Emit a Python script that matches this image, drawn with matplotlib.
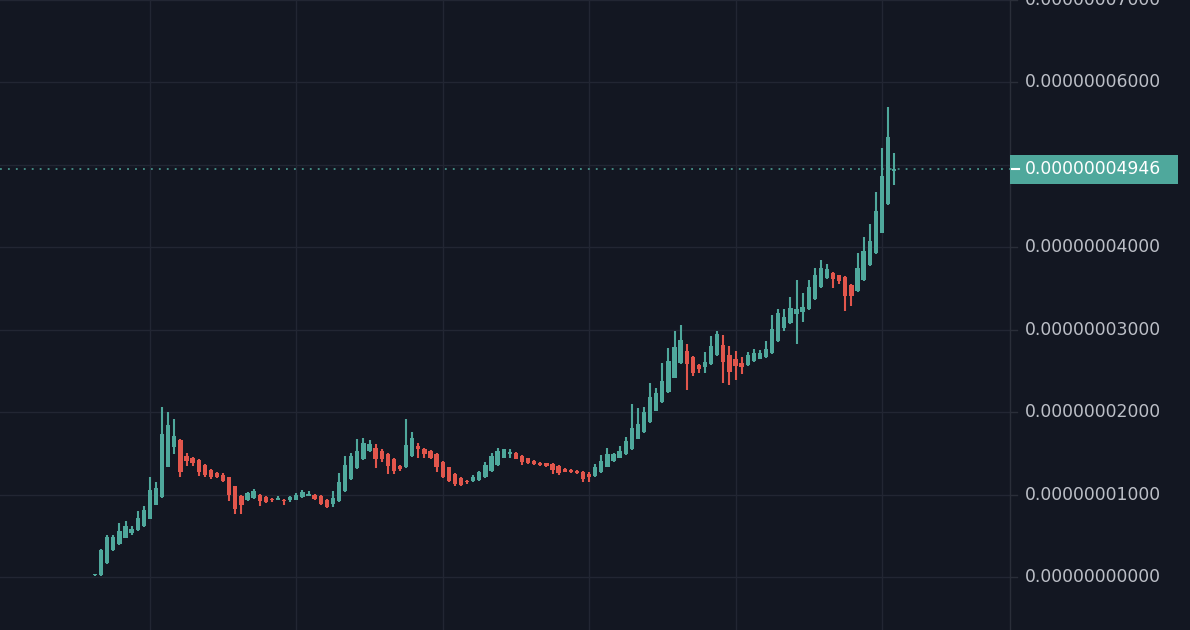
import matplotlib
matplotlib.use("Agg")
import matplotlib.pyplot as plt
from matplotlib.transforms import blended_transform_factory
from matplotlib.patches import Rectangle

# ---- data (prices in units of 1e-8) ----
opens = [0.02, 0.02, 0.17, 0.33, 0.40, 0.48, 0.54, 0.57, 0.62, 0.71,
         0.88, 0.97, 1.34, 1.58, 1.66, 1.47, 1.44, 1.42, 1.36, 1.30,
         1.26, 1.24, 1.21, 1.10, 0.99, 0.93, 0.96, 1.00, 0.97, 0.95,
         0.94, 0.94, 0.93, 0.94, 0.97, 0.99, 1.00, 0.99, 0.94, 0.89,
         0.92, 1.04, 1.19, 1.32, 1.43, 1.53, 1.57, 1.53, 1.49, 1.43,
         1.35, 1.33, 1.47, 1.59, 1.56, 1.53, 1.49, 1.40, 1.33, 1.25,
         1.20, 1.17, 1.17, 1.18, 1.21, 1.29, 1.36, 1.45, 1.49, 1.51,
         1.47, 1.44, 1.41, 1.39, 1.38, 1.37, 1.35, 1.31, 1.30, 1.29,
         1.28, 1.25, 1.23, 1.27, 1.34, 1.41, 1.45, 1.49, 1.55, 1.68,
         1.76, 1.88, 2.02, 2.12, 2.24, 2.42, 2.60, 2.74, 2.67, 2.57,
         2.55, 2.58, 2.69, 2.81, 2.70, 2.64, 2.60, 2.57, 2.62, 2.65,
         2.67, 2.72, 2.86, 3.02, 3.08, 3.19, 3.21, 3.25, 3.37, 3.52,
         3.63, 3.69, 3.66, 3.64, 3.54, 3.47, 3.60, 3.78, 3.93, 4.18,
         4.52, 4.925]
highs = [0.03, 0.34, 0.51, 0.51, 0.66, 0.68, 0.62, 0.80, 0.86, 1.22,
         1.15, 2.06, 2.00, 1.92, 1.67, 1.50, 1.46, 1.43, 1.37, 1.31,
         1.27, 1.26, 1.22, 1.11, 1.00, 1.03, 1.07, 1.01, 0.98, 0.96,
         0.99, 0.95, 0.99, 1.02, 1.06, 1.05, 1.01, 1.00, 0.95, 1.04,
         1.26, 1.47, 1.51, 1.68, 1.69, 1.66, 1.62, 1.55, 1.50, 1.44,
         1.36, 1.92, 1.76, 1.63, 1.57, 1.54, 1.50, 1.41, 1.34, 1.26,
         1.21, 1.18, 1.24, 1.29, 1.40, 1.51, 1.57, 1.56, 1.56, 1.52,
         1.48, 1.45, 1.42, 1.40, 1.39, 1.38, 1.36, 1.32, 1.31, 1.30,
         1.29, 1.27, 1.37, 1.48, 1.57, 1.50, 1.59, 1.70, 2.10, 2.05,
         2.06, 2.35, 2.30, 2.60, 2.78, 2.98, 3.06, 2.83, 2.68, 2.58,
         2.73, 2.92, 2.99, 2.94, 2.80, 2.74, 2.67, 2.73, 2.77, 2.76,
         2.86, 3.18, 3.25, 3.25, 3.40, 3.61, 3.45, 3.61, 3.75, 3.85,
         3.80, 3.70, 3.67, 3.65, 3.55, 3.93, 4.13, 4.28, 4.67, 5.21,
         5.70, 5.14]
lows = [0.01, 0.01, 0.16, 0.32, 0.39, 0.47, 0.51, 0.56, 0.61, 0.70,
        0.87, 0.96, 1.33, 1.49, 1.22, 1.35, 1.35, 1.23, 1.22, 1.19,
        1.20, 1.16, 0.92, 0.77, 0.77, 0.92, 0.95, 0.86, 0.90, 0.91,
        0.93, 0.88, 0.91, 0.93, 0.96, 0.98, 0.94, 0.87, 0.84, 0.85,
        0.91, 1.03, 1.18, 1.31, 1.42, 1.52, 1.32, 1.40, 1.25, 1.25,
        1.29, 1.32, 1.46, 1.44, 1.45, 1.43, 1.28, 1.20, 1.16, 1.10,
        1.10, 1.13, 1.16, 1.17, 1.20, 1.28, 1.35, 1.44, 1.45, 1.43,
        1.36, 1.37, 1.36, 1.35, 1.34, 1.25, 1.24, 1.27, 1.26, 1.25,
        1.15, 1.16, 1.22, 1.26, 1.33, 1.40, 1.44, 1.48, 1.54, 1.67,
        1.75, 1.87, 2.01, 2.11, 2.23, 2.41, 2.59, 2.27, 2.44, 2.47,
        2.48, 2.57, 2.68, 2.35, 2.33, 2.39, 2.46, 2.56, 2.61, 2.64,
        2.66, 2.71, 2.85, 2.99, 3.07, 2.83, 3.09, 3.24, 3.36, 3.51,
        3.62, 3.51, 3.55, 3.23, 3.29, 3.46, 3.59, 3.77, 3.92, 4.17,
        4.51, 4.76]
closes = [0.02, 0.335, 0.49, 0.49, 0.56, 0.62, 0.58, 0.72, 0.81, 1.06,
          1.08, 1.74, 1.84, 1.71, 1.28, 1.41, 1.39, 1.28, 1.24, 1.22,
          1.21, 1.17, 1.00, 0.83, 0.87, 1.02, 1.04, 0.92, 0.91, 0.93,
          0.96, 0.92, 0.97, 1.00, 1.03, 1.01, 0.95, 0.89, 0.85, 0.96,
          1.16, 1.36, 1.47, 1.53, 1.63, 1.62, 1.43, 1.43, 1.35, 1.29,
          1.31, 1.60, 1.69, 1.56, 1.49, 1.44, 1.33, 1.21, 1.17, 1.13,
          1.12, 1.15, 1.22, 1.27, 1.36, 1.47, 1.53, 1.55, 1.52, 1.43,
          1.40, 1.38, 1.37, 1.36, 1.35, 1.30, 1.26, 1.28, 1.28, 1.26,
          1.19, 1.22, 1.33, 1.41, 1.49, 1.49, 1.53, 1.65, 1.81, 1.86,
          2.00, 2.18, 2.23, 2.38, 2.62, 2.79, 2.88, 2.58, 2.48, 2.52,
          2.61, 2.80, 2.95, 2.61, 2.49, 2.56, 2.55, 2.69, 2.72, 2.72,
          2.77, 3.01, 3.20, 3.16, 3.26, 3.25, 3.28, 3.52, 3.67, 3.75,
          3.74, 3.62, 3.59, 3.41, 3.41, 3.75, 3.96, 4.08, 4.44, 4.87,
          5.34, 4.946]
price_ticks = [0, 1, 2, 3, 4, 5, 6, 7]
grid_candles = [9, 33, 57, 81, 105, 129]
SCALE = 1e-8

BG = "#131722"
GRID = "#222633"
UP = "#4fa89c"
DOWN = "#e2564c"
TXT = "#bcbfc7"

fig = plt.figure(figsize=(11.9, 6.3), dpi=100, facecolor=BG)
ax = fig.add_axes([0, 0, 1010 / 1190, 1])
ax.set_facecolor(BG)

n = len(opens)
idx = list(range(n))
cols = [UP if c >= o else DOWN for o, c in zip(opens, closes)]
bottoms = [min(o, c) for o, c in zip(opens, closes)]
heights = [max(abs(c - o), 0.02) for o, c in zip(opens, closes)]

ax.vlines(idx, lows, highs, colors=cols, linewidth=1.5, zorder=3)
ax.bar(idx, heights, bottom=bottoms, width=0.72, color=cols, linewidth=0,
       zorder=4)

ax.set_xlim(-95 / 6.1, (1010 - 95) / 6.1)
ax.set_ylim(-53 / 82.67, 577 / 82.67)

ax.set_xticks(grid_candles)
ax.set_yticks(price_ticks)
ax.grid(True, color=GRID, linewidth=1.0, zorder=0)
ax.tick_params(left=False, bottom=False, right=False, labelleft=False,
               labelbottom=False)
for s in ["left", "top", "bottom"]:
    ax.spines[s].set_visible(False)
ax.spines["right"].set_color("#2a2e39")
ax.spines["right"].set_linewidth(1.0)

last = closes[-1]
box_h = 29 / 82.67

tr = blended_transform_factory(ax.transAxes, ax.transData)
for v in price_ticks:
    ax.plot([1.0, 1.007], [v, v], color="#2a2e39", lw=1, transform=tr,
            clip_on=False)
    if abs(v - last) < box_h:
        continue  # hidden behind the last-price label
    ax.text(1.0149, v, f"{v * SCALE:.11f}", transform=tr, ha="left",
            va="center", color=TXT, fontsize=12.4, clip_on=False,
            family="DejaVu Sans")

ax.axhline(last, color=UP, linestyle=(0, (1.2, 4.0)), linewidth=1.1, zorder=2)
ax.add_patch(Rectangle((1.0, last - box_h / 2), 168 / 1010, box_h,
                       transform=tr, facecolor=UP, edgecolor="none",
                       clip_on=False, zorder=5))
ax.plot([1.002, 1.009], [last, last], color="white", lw=1.5, transform=tr,
        clip_on=False, zorder=6)
ax.text(1.0149, last, f"{last * SCALE:.11f}", transform=tr, ha="left",
        va="center", color="white", fontsize=12.4, clip_on=False, zorder=6,
        family="DejaVu Sans")

fig.savefig("out.png", dpi=100, facecolor=BG)
